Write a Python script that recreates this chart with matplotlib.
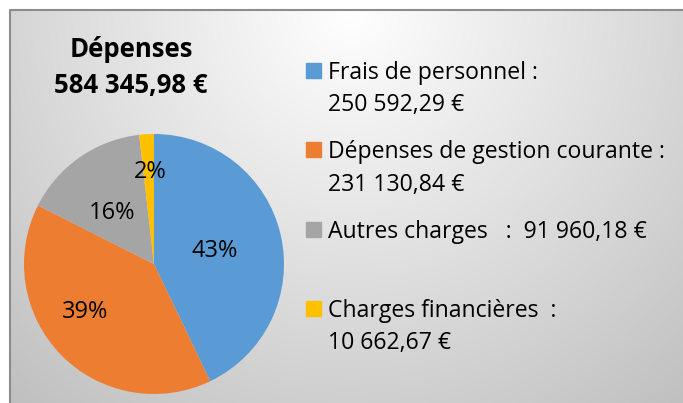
import numpy as np
import matplotlib
matplotlib.use("Agg")
import matplotlib.pyplot as plt
from matplotlib.patches import Rectangle

plt.rcParams['font.family'] = ['Open Sans', 'DejaVu Sans']

# donnees
categories = ["Frais de personnel", "Dépenses de gestion courante",
              "Autres charges", "Charges financières"]
montants = [250592.29, 231130.84, 91960.18, 10662.67]
pourcentages = ["43%", "39%", "16%", "2%"]
libelles_legende = ["Frais de personnel :\n250 592,29 €",
                    "Dépenses de gestion courante :\n231 130,84 €",
                    "Autres charges   :  91 960,18 €",
                    "Charges financières  :\n10 662,67 €"]
titre = "Dépenses\n584 345,98 €"
couleurs = ["#5B9BD5", "#ED7D31", "#A5A5A5", "#FFC000"]

W, H = 683, 403

def Y(y):
    # coordonnees image -> coordonnees axes (y vers le haut)
    return H - y

fig = plt.figure(figsize=(W / 100, H / 100), dpi=100)
ax = fig.add_axes([0, 0, 1, 1])

# fond en degrade radial
gx, gy = np.meshgrid(np.arange(W), np.arange(H))
dist = np.sqrt((gx - 350) ** 2 + (gy - 10) ** 2)
gris = np.clip(1 - 0.25 * dist / 520, 0, 1)
ax.imshow(np.dstack([gris, gris, gris]), extent=(0, W, 0, H), origin='upper', zorder=0)
ax.add_patch(Rectangle((0, 0), 9, H, color='white', zorder=1))
ax.add_patch(Rectangle((0, Y(9)), W, 9, color='white', zorder=1))
ax.plot([9.5, 9.5, W], [0, Y(9.5), Y(9.5)], color='#8C8C8C', lw=1.5, zorder=2)

# camembert
centre = (154, Y(264))
rayon = 130
it = iter(pourcentages)
wedges, _, autotexts = ax.pie(montants, colors=couleurs, startangle=90, counterclock=False,
                              center=centre, radius=rayon, frame=True,
                              autopct=lambda p: next(it),
                              textprops=dict(fontsize=17, color='black'))
ax.set_xlim(0, W)
ax.set_ylim(0, H)
ax.set_aspect('equal')
ax.axis('off')
for w in wedges:
    w.set_zorder(3)

decalages = [(0.47, 0.10), (-0.53, -0.37), (-0.32, 0.39), (-0.03, 0.71)]
for t, (dx, dy) in zip(autotexts, decalages):
    t.set_position((centre[0] + dx * rayon, centre[1] + dy * rayon))
    t.set_ha('center')
    t.set_va('center')
    t.set_zorder(4)

# titre
for ligne, yb in zip(titre.split("\n"), [57, 93]):
    ax.text(131, Y(yb), ligne, ha='center', va='baseline', fontsize=18.5,
            fontweight='bold', zorder=4)

# legende
bases = [79, 158, 238, 317]
for lab, c, yb in zip(libelles_legende, couleurs, bases):
    ax.add_patch(Rectangle((306, Y(yb) + 1), 15, 15, color=c, zorder=4))
    for k, ligne in enumerate(lab.split("\n")):
        ax.text(328, Y(yb + 32.5 * k), ligne, ha='left', va='baseline',
                fontsize=16.6, zorder=4)

fig.savefig("out.png", dpi=100)
